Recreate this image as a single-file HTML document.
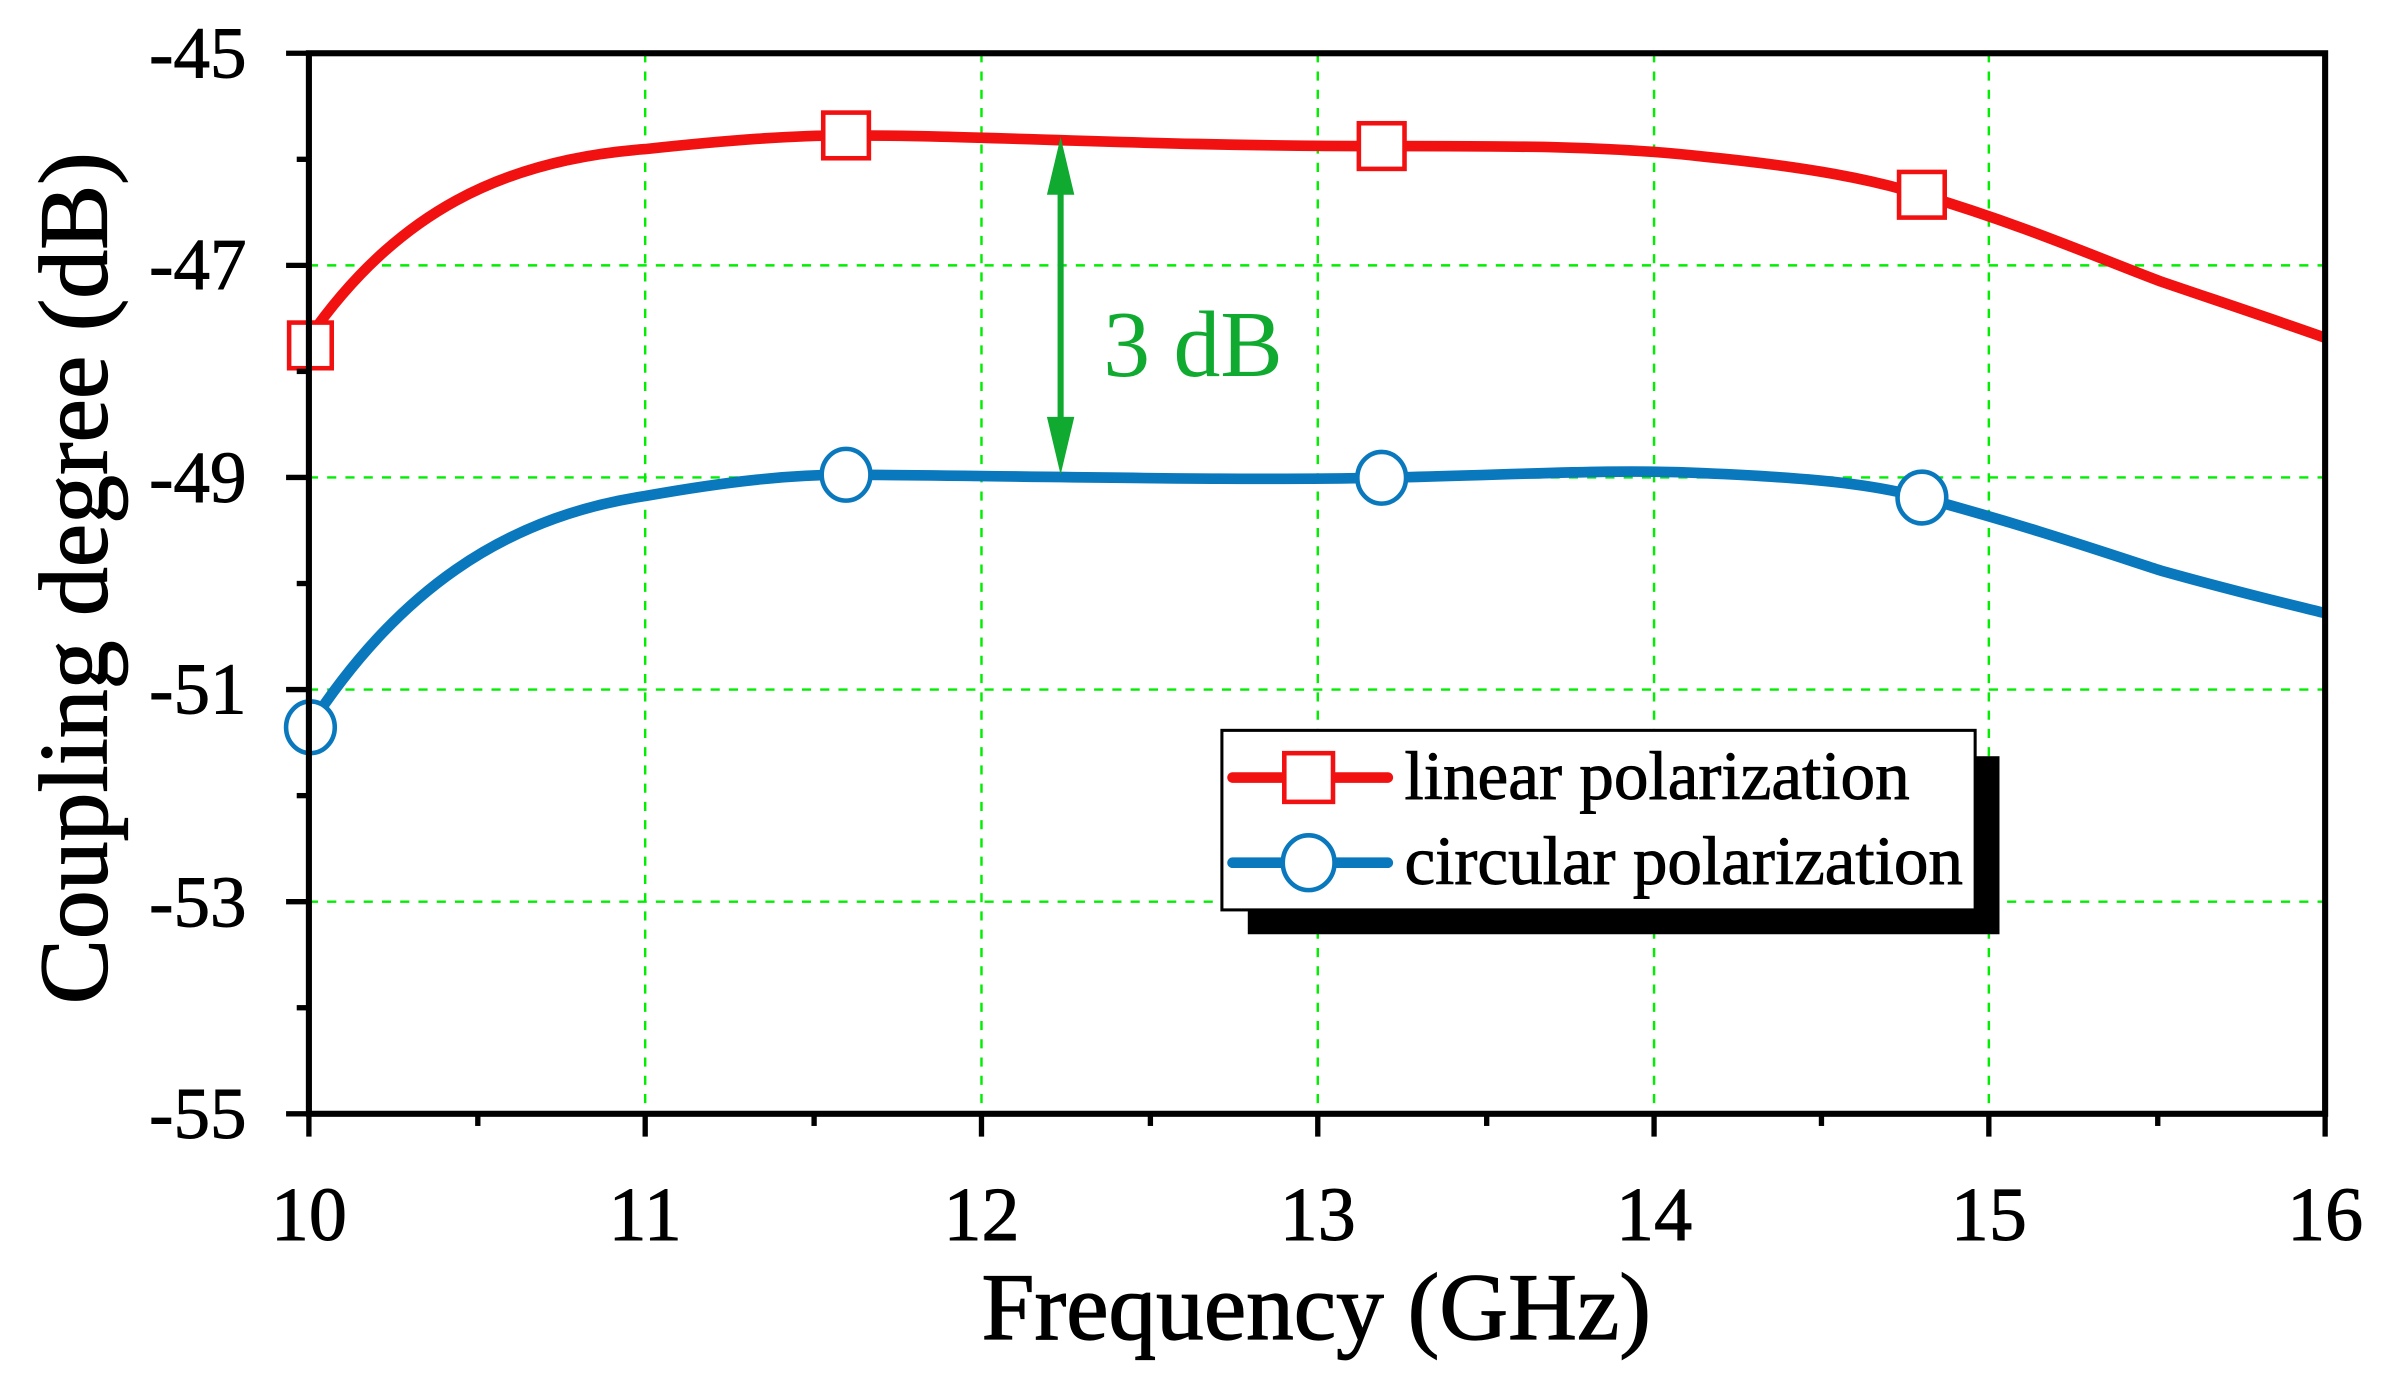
<!DOCTYPE html>
<html><head><meta charset="utf-8"><style>html,body{margin:0;padding:0;background:#fff}svg{display:block}</style></head>
<body>
<svg width="2386" height="1393" viewBox="0 0 1568 915.5" preserveAspectRatio="none" xmlns="http://www.w3.org/2000/svg" font-family="Liberation Serif, serif">
<g stroke="#00ee00" stroke-width="1.6" stroke-dasharray="6,6" fill="none">
<line x1="424" y1="35" x2="424" y2="732"/><line x1="645" y1="35" x2="645" y2="732"/><line x1="866" y1="35" x2="866" y2="732"/><line x1="1087" y1="35" x2="1087" y2="732"/><line x1="1307" y1="35" x2="1307" y2="732"/>
<line x1="203" y1="174.4" x2="1528" y2="174.4"/><line x1="203" y1="313.8" x2="1528" y2="313.8"/><line x1="203" y1="453.2" x2="1528" y2="453.2"/><line x1="203" y1="592.6" x2="1528" y2="592.6"/>
</g>
<rect x="820" y="497" width="494" height="117" fill="#000"/>
<rect x="803" y="480" width="495" height="118" fill="#fff" stroke="#000" stroke-width="2"/>
<path d="M203,222 C260,140 330,105 424,98 C480,92 520,89 556,89 C650,89 750,96 908,96 C1000,96 1060,96 1120,103 C1190,110 1230,118 1263,128 C1330,148 1380,170 1420,185 C1470,202 1500,212 1528,222" fill="none" stroke="#f21111" stroke-width="7"/>
<path d="M203,478 C260,390 330,340 424,326 C480,316 520,312 556,312 C700,313 800,316 908,314 C1000,312 1060,308 1120,311 C1190,314 1230,318 1263,327 C1330,345 1380,362 1420,375 C1470,389 1500,396 1528,403" fill="none" stroke="#0a78bd" stroke-width="7"/>
<g fill="#fff" stroke="#f21111" stroke-width="3">
<rect x="190" y="212" width="28" height="30"/><rect x="541" y="74" width="30" height="30"/><rect x="893" y="81" width="30" height="30"/><rect x="1248" y="113" width="30" height="30"/>
</g>
<g fill="#fff" stroke="#0a78bd" stroke-width="3">
<ellipse cx="204" cy="478" rx="16" ry="17"/><ellipse cx="556" cy="312" rx="16" ry="17"/><ellipse cx="908" cy="314" rx="16" ry="17"/><ellipse cx="1263" cy="327" rx="16" ry="17"/>
</g>
<line x1="697" y1="110" x2="697" y2="292" stroke="#10aa30" stroke-width="4"/>
<polygon points="697,90 688,128 706,128" fill="#10aa30"/>
<polygon points="697,312 688,274 706,274" fill="#10aa30"/>
<text x="725" y="247" font-size="62" fill="#10aa30" textLength="118" lengthAdjust="spacingAndGlyphs">3 dB</text>
<line x1="810" y1="511" x2="912" y2="511" stroke="#f21111" stroke-width="7" stroke-linecap="round"/>
<rect x="844" y="495" width="32" height="32" fill="#fff" stroke="#f21111" stroke-width="3"/>
<line x1="810" y1="567" x2="912" y2="567" stroke="#0a78bd" stroke-width="7" stroke-linecap="round"/>
<ellipse cx="860" cy="567" rx="17" ry="18" fill="#fff" stroke="#0a78bd" stroke-width="3"/>
<g stroke="#000" stroke-width="0.6">
<text x="923" y="525" font-size="45" textLength="332" lengthAdjust="spacingAndGlyphs">linear polarization</text>
<text x="923" y="581" font-size="45" textLength="367" lengthAdjust="spacingAndGlyphs">circular polarization</text>
</g>
<rect x="203" y="35" width="1325" height="697" fill="none" stroke="#000" stroke-width="4"/>
<g stroke="#000" stroke-width="3.5">
<line x1="203" y1="732" x2="203" y2="747"/><line x1="424" y1="732" x2="424" y2="747"/><line x1="645" y1="732" x2="645" y2="747"/><line x1="866" y1="732" x2="866" y2="747"/><line x1="1087" y1="732" x2="1087" y2="747"/><line x1="1307" y1="732" x2="1307" y2="747"/><line x1="1528" y1="732" x2="1528" y2="747"/>
<line x1="314" y1="732" x2="314" y2="740"/><line x1="535" y1="732" x2="535" y2="740"/><line x1="756" y1="732" x2="756" y2="740"/><line x1="977" y1="732" x2="977" y2="740"/><line x1="1197" y1="732" x2="1197" y2="740"/><line x1="1418" y1="732" x2="1418" y2="740"/>
<line x1="188" y1="35" x2="203" y2="35"/><line x1="188" y1="174.4" x2="203" y2="174.4"/><line x1="188" y1="313.8" x2="203" y2="313.8"/><line x1="188" y1="453.2" x2="203" y2="453.2"/><line x1="188" y1="592.6" x2="203" y2="592.6"/><line x1="188" y1="732" x2="203" y2="732"/>
<line x1="195" y1="104.7" x2="203" y2="104.7"/><line x1="195" y1="244.1" x2="203" y2="244.1"/><line x1="195" y1="383.5" x2="203" y2="383.5"/><line x1="195" y1="522.9" x2="203" y2="522.9"/><line x1="195" y1="662.3" x2="203" y2="662.3"/>
</g>
<g font-size="48" text-anchor="end" stroke="#000" stroke-width="0.6">
<text x="162" y="51">-45</text><text x="162" y="190">-47</text><text x="162" y="330">-49</text><text x="162" y="469">-51</text><text x="162" y="609">-53</text><text x="162" y="748">-55</text>
</g>
<g font-size="50" text-anchor="middle" stroke="#000" stroke-width="0.6">
<text x="203" y="815">10</text><text x="424" y="815">11</text><text x="645" y="815">12</text><text x="866" y="815">13</text><text x="1087" y="815">14</text><text x="1307" y="815">15</text><text x="1528" y="815">16</text>
</g>
<g stroke="#000" stroke-width="0.8">
<text x="645" y="880" font-size="63" textLength="440" lengthAdjust="spacingAndGlyphs">Frequency (GHz)</text>
<text transform="translate(70,660) rotate(-90)" font-size="64" textLength="560" lengthAdjust="spacingAndGlyphs">Coupling degree (dB)</text>
</g>
</svg>
</body></html>
